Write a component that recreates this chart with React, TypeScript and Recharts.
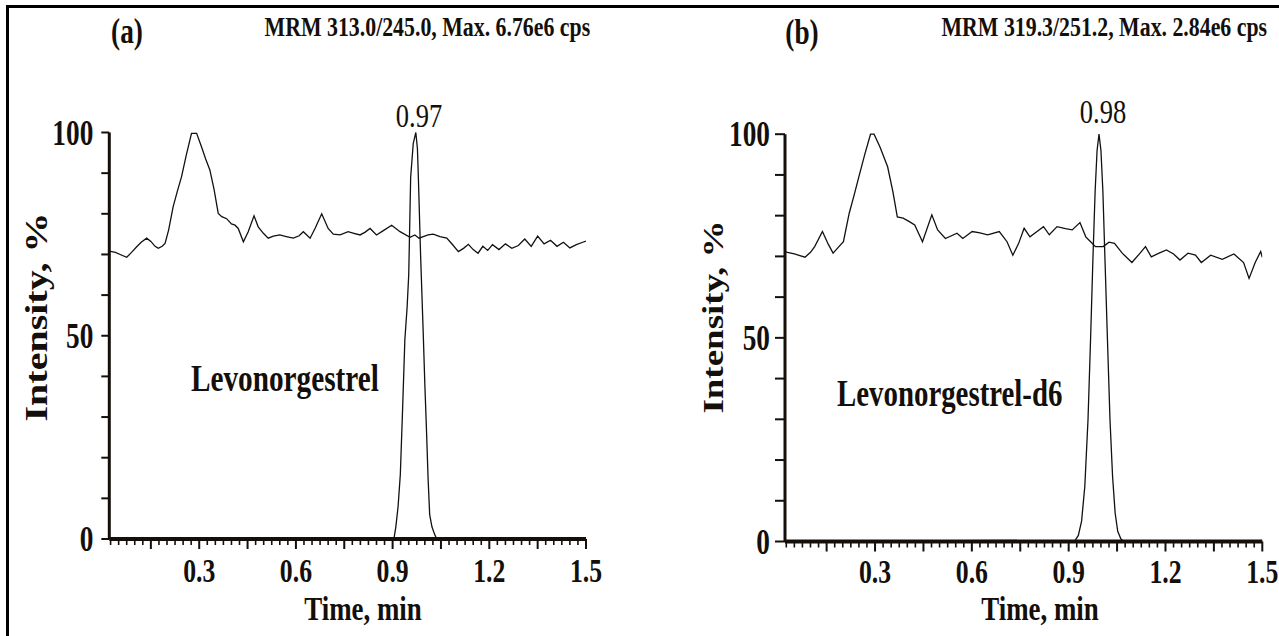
import React from "react";
import { LineChart, Line, XAxis, YAxis } from "recharts";

// ---------- data (time in min, intensity in %) ----------
const noiseA_t = [0.021, 0.04, 0.06, 0.075, 0.09, 0.106, 0.12, 0.137, 0.15, 0.163, 0.173, 0.185, 0.194, 0.205, 0.219, 0.232, 0.245, 0.26, 0.276, 0.292, 0.307, 0.32, 0.333, 0.346, 0.359, 0.37, 0.385, 0.4, 0.411, 0.421, 0.437, 0.452, 0.47, 0.483, 0.499, 0.514, 0.53, 0.55, 0.57, 0.592, 0.61, 0.623, 0.644, 0.66, 0.68, 0.7, 0.716, 0.737, 0.762, 0.78, 0.799, 0.815, 0.83, 0.85, 0.87, 0.897, 0.923, 0.954, 0.969, 0.982, 0.995, 1.01, 1.026, 1.047, 1.068, 1.085, 1.104, 1.12, 1.135, 1.15, 1.165, 1.18, 1.195, 1.21, 1.23, 1.25, 1.27, 1.29, 1.31, 1.33, 1.35, 1.37, 1.39, 1.41, 1.43, 1.45, 1.47, 1.49, 1.5];
const noiseA_v = [70.8, 70.5, 69.8, 69.3, 70.5, 71.9, 73, 74, 73.2, 72, 71.5, 72, 72.7, 76, 81.7, 85.5, 89.1, 94.5, 99.8, 99.8, 96.5, 93.5, 90.8, 86, 80.1, 79.3, 78.8, 77.5, 77.2, 76.4, 73.1, 75.6, 79.5, 76.8, 75.2, 74, 74.5, 74.8, 74.4, 74, 74.6, 75.6, 74, 76.5, 80, 76.4, 75, 74.8, 75.6, 75.2, 74.8, 75.5, 76.4, 74.8, 75.8, 77.2, 75.6, 74.2, 74.8, 74, 74.4, 74.8, 75, 74.4, 74, 72.5, 70.7, 71.5, 72.5, 71.2, 70.3, 72, 71, 72.4, 71.2, 72.6, 71.5, 72.2, 73.8, 72, 74.5, 72.6, 73.5, 72, 73, 71.6, 72.4, 73, 73.3];

const peakA_t = [0.021, 0.904, 0.91, 0.917, 0.924, 0.931, 0.938, 0.945, 0.95, 0.956, 0.964, 0.972, 0.977, 0.98, 0.987, 0.995, 1.0, 1.005, 1.01, 1.015, 1.022, 1.03, 1.037, 1.5];
const peakA_v = [0, 0, 3, 8, 16, 32, 49, 57, 65, 89, 97.3, 100, 96, 88.7, 69.4, 50.6, 38, 27, 15, 6, 3, 1.2, 0, 0];

const noiseB_t = [0.021, 0.029, 0.05, 0.083, 0.1, 0.113, 0.137, 0.155, 0.17, 0.186, 0.202, 0.22, 0.235, 0.25, 0.268, 0.286, 0.297, 0.315, 0.339, 0.355, 0.369, 0.387, 0.405, 0.423, 0.447, 0.476, 0.494, 0.518, 0.554, 0.572, 0.601, 0.625, 0.649, 0.685, 0.709, 0.727, 0.745, 0.762, 0.78, 0.8, 0.822, 0.84, 0.864, 0.89, 0.911, 0.935, 0.953, 0.968, 0.983, 1.007, 1.025, 1.042, 1.066, 1.096, 1.118, 1.138, 1.156, 1.18, 1.203, 1.225, 1.245, 1.27, 1.293, 1.311, 1.34, 1.376, 1.412, 1.442, 1.459, 1.478, 1.495, 1.5];
const noiseB_v = [71.2, 71, 70.6, 69.8, 71, 72.4, 76.1, 73, 70.8, 72.2, 73.6, 80.6, 85, 89.6, 95, 100, 100, 96.9, 92, 86, 79.7, 79.4, 78.6, 77.7, 73.6, 80.2, 76.5, 74.4, 75.7, 74.4, 76.1, 75.8, 75.3, 76.1, 73.6, 70.3, 73.2, 76.9, 74.8, 76, 77.3, 75.3, 77.3, 76.8, 76.5, 78.3, 74.8, 73.6, 72.4, 72.4, 73.5, 73.2, 70.8, 68.5, 70.5, 72.4, 69.9, 70.8, 71.6, 70.6, 69.1, 70.8, 70.3, 68.5, 70.3, 69.3, 70.6, 68.5, 64.6, 68.5, 71.2, 69.8];

const peakB_t = [0.021, 0.92, 0.93, 0.94, 0.95, 0.96, 0.968, 0.975, 0.982, 0.988, 0.994, 1.0, 1.006, 1.013, 1.02, 1.028, 1.036, 1.044, 1.052, 1.062, 1.072, 1.5];
const peakB_v = [0, 0.3, 1.5, 5, 13.5, 30, 50, 69, 86, 96, 100, 96, 86, 68, 50, 30, 16, 7, 2.5, 0.6, 0, 0];

const yTicks = [0, 10, 20, 30, 40, 50, 60, 70, 80, 90, 100];
const yTickLabels = [0, 50, 100];
const xTickLabels = ["0.3", "0.6", "0.9", "1.2", "1.5"];
const xMinorStep = 0.025;
const xDomain: [number, number] = [0.021, 1.5];

const panels = [
  {
    id: "a",
    tag: "(a)",
    title: "MRM 313.0/245.0, Max. 6.76e6 cps",
    compound: "Levonorgestrel",
    peakLabel: "0.97",
  },
  {
    id: "b",
    tag: "(b)",
    title: "MRM 319.3/251.2, Max. 2.84e6 cps",
    compound: "Levonorgestrel-d6",
    peakLabel: "0.98",
  },
];

const zip = (t: number[], v: number[]) => t.map((x, i) => ({ t: x, v: v[i] }));
const noiseA = zip(noiseA_t, noiseA_v);
const peakA = zip(peakA_t, peakA_v);
const noiseB = zip(noiseB_t, noiseB_v);
const peakB = zip(peakB_t, peakB_v);

const xTicks: number[] = [];
for (let i = 1; i * xMinorStep <= 1.5001; i++) xTicks.push(Math.round(i * xMinorStep * 1000) / 1000);

// ---------- style ----------
const SERIF = "'Liberation Serif', 'Times New Roman', serif";
const INK = "#140f0a";
const SX = 0.78;

function T(props: {
  x: number; y: number; size: number; anchor?: string; weight?: number; rot?: boolean; children: React.ReactNode;
}) {
  const { x, y, size, anchor = "start", weight = 700, rot = false, children } = props;
  const tr = rot ? `translate(${x},${y}) scale(${SX},1) rotate(-90)` : `translate(${x},${y}) scale(${SX},1)`;
  return (
    <text transform={tr} fontSize={size} fontFamily={SERIF} fontWeight={weight} textAnchor={anchor as any} fill={INK}>
      {children}
    </text>
  );
}

const makeYTick = (tickLen: number, labelGap: number) => (props: any) => {
  const { x, y, payload } = props;
  const v = payload.value;
  return (
    <g>
      <line x1={x} x2={x - tickLen} y1={y} y2={y} stroke={INK} strokeWidth={2} />
      {yTickLabels.includes(v) && (
        <T x={x - labelGap} y={y + 12} size={35} anchor="end">{String(v)}</T>
      )}
    </g>
  );
};

const makeXTick = (labelOffset: number) => (props: any) => {
  const { x, y, payload } = props;
  const v: number = payload.value;
  const idx = Math.round(v / xMinorStep);
  const major = idx % 6 === 0;
  const lbl = v.toFixed(1);
  const labeled = idx % 12 === 0 && xTickLabels.includes(lbl);
  return (
    <g>
      <line x1={x} x2={x} y1={y} y2={y + (major ? 10 : 6)} stroke={INK} strokeWidth={major ? 2 : 1.6} />
      {labeled && (
        <T x={x} y={y + labelOffset} size={33} anchor="middle">{lbl}</T>
      )}
    </g>
  );
};

function Panel(props: {
  noise: { t: number; v: number }[]; peak: { t: number; v: number }[];
  width: number; margin: any; yTickLen: number; yLabelGap: number; xLabelOffset: number;
}) {
  const { noise, peak, width, margin, yTickLen, yLabelGap, xLabelOffset } = props;
  return (
    <LineChart width={width} height={636} margin={margin}>
      <XAxis
        dataKey="t"
        type="number"
        domain={xDomain}
        allowDataOverflow
        ticks={xTicks}
        interval={0}
        tickSize={0}
        tickMargin={0}
        tickLine={false}
        height={60}
        axisLine={{ stroke: INK, strokeWidth: 4 }}
        tick={makeXTick(xLabelOffset)}
      />
      <YAxis
        type="number"
        domain={[0, 100]}
        ticks={yTicks}
        interval={0}
        tickSize={0}
        tickMargin={0}
        tickLine={false}
        width={60}
        axisLine={{ stroke: INK, strokeWidth: 3 }}
        tick={makeYTick(yTickLen, yLabelGap)}
      />
      <Line data={noise} dataKey="v" type="linear" stroke="#111" strokeWidth={1.3} dot={false} isAnimationActive={false} />
      <Line data={peak} dataKey="v" type="linear" stroke="#111" strokeWidth={1.3} dot={false} isAnimationActive={false} />
    </LineChart>
  );
}

export default function App() {
  const [pa, pb] = panels;
  return (
    <div style={{ position: "relative", width: 1279, height: 636, overflow: "hidden", background: "#fff" }}>
      <style>{"body{margin:0}"}</style>
      {/* figure frame */}
      <div style={{ position: "absolute", left: 6, top: 5, width: 1400, height: 3, background: "#000" }} />
      <div style={{ position: "absolute", left: 6, top: 5, width: 3, height: 700, background: "#000" }} />

      <div style={{ position: "absolute", left: 0, top: 0 }}>
        <Panel
          noise={noiseA}
          peak={peakA}
          width={640}
          margin={{ top: 132.5, right: 54, bottom: 37, left: 49.3 }}
          yTickLen={8}
          yLabelGap={16}
          xLabelOffset={43}
        />
      </div>
      <div style={{ position: "absolute", left: 640, top: 0 }}>
        <Panel
          noise={noiseB}
          peak={peakB}
          width={639}
          margin={{ top: 134.2, right: 16.7, bottom: 34.5, left: 85 }}
          yTickLen={10}
          yLabelGap={15}
          xLabelOffset={41.5}
        />
      </div>

      <svg width={1279} height={636} style={{ position: "absolute", left: 0, top: 0, pointerEvents: "none" }}>
        {/* panel a texts */}
        <T x={127} y={43} size={35} anchor="middle">{pa.tag}</T>
        <T x={264.6} y={36} size={28}>{pa.title}</T>
        <T x={47} y={317} size={40} anchor="middle" rot>Intensity, %</T>
        <T x={363} y={620} size={34.5} anchor="middle">Time, min</T>
        <T x={191} y={391} size={37.5}>{pa.compound}</T>
        <T x={419} y={127} size={34} anchor="middle" weight={400}>{pa.peakLabel}</T>

        {/* panel b texts */}
        <T x={802} y={44} size={35} anchor="middle">{pb.tag}</T>
        <T x={941.5} y={36} size={28}>{pb.title}</T>
        <T x={723} y={317} size={37} anchor="middle" rot>Intensity, %</T>
        <T x={1040} y={620} size={34.5} anchor="middle">Time, min</T>
        <T x={837} y={406} size={37}>{pb.compound}</T>
        <T x={1103} y={123} size={34} anchor="middle" weight={400}>{pb.peakLabel}</T>
      </svg>
    </div>
  );
}
